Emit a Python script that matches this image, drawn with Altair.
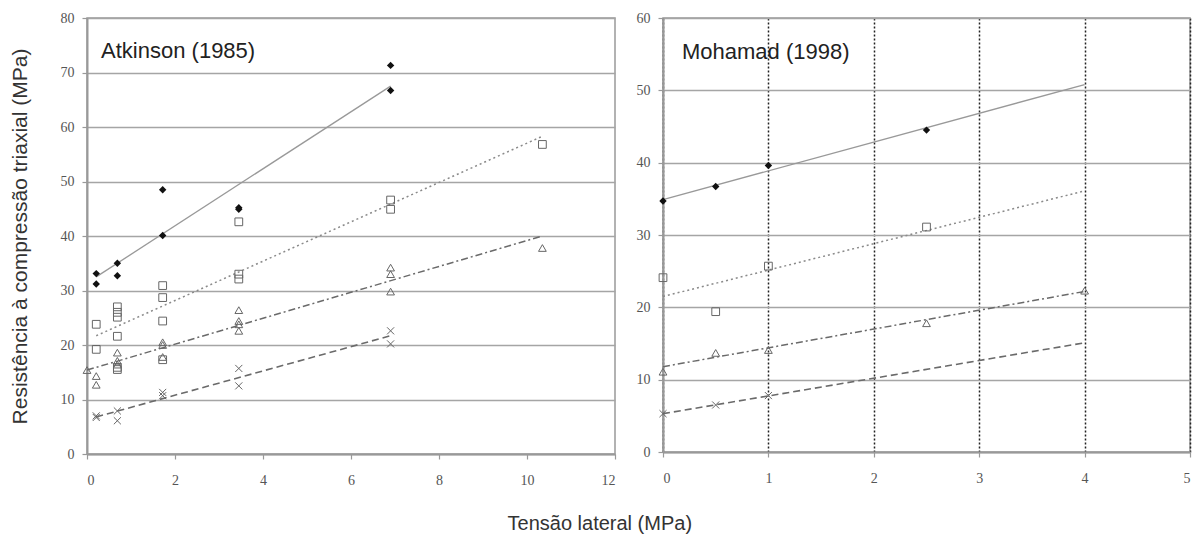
import altair as alt
import pandas as pd

# ---------------- Atkinson (1985) ----------------
atk_d_x = [0.21, 0.21, 0.69, 0.69, 1.72, 1.72, 3.45, 3.45, 6.9, 6.9]
atk_d_y = [33.1, 31.2, 35.0, 32.7, 48.5, 40.1, 45.2, 44.9, 71.3, 66.7]
atk_s_x = [0.21, 0.21, 0.69, 0.69, 0.69, 0.69, 0.69, 0.69, 1.72, 1.72, 1.72, 1.72, 3.45, 3.45, 3.45, 6.9, 6.9, 10.35]
atk_s_y = [23.8, 19.2, 27.0, 26.0, 25.1, 21.6, 15.9, 15.5, 30.9, 28.7, 24.4, 17.3, 42.6, 33.0, 32.1, 46.6, 44.9, 56.8]
atk_t_x = [0.0, 0.21, 0.21, 0.69, 0.69, 0.69, 1.72, 1.72, 1.72, 3.45, 3.45, 3.45, 3.45, 6.9, 6.9, 6.9, 10.35]
atk_t_y = [15.4, 14.3, 12.7, 18.6, 17.1, 16.4, 20.5, 20.0, 17.8, 26.4, 24.4, 23.8, 22.6, 34.2, 33.0, 29.8, 37.8]
atk_c_x = [0.21, 0.21, 0.69, 0.69, 1.72, 1.72, 3.45, 3.45, 6.9, 6.9]
atk_c_y = [7.0, 6.7, 7.9, 6.1, 11.3, 10.7, 15.7, 12.5, 22.6, 20.2]
# fitted lines (end points)
atk_fit_d = ([0.21, 6.9], [32.5, 67.5])
atk_fit_s = ([0.21, 10.35], [21.7, 58.3])
atk_fit_t = ([0.0, 10.35], [15.4, 40.0])
atk_fit_c = ([0.21, 6.9], [6.8, 21.7])

# ---------------- Mohamad (1998) ----------------
moh_d_x = [0, 0.5, 1, 2.5]
moh_d_y = [34.7, 36.7, 39.6, 44.5]
moh_s_x = [0, 0.5, 1, 2.5]
moh_s_y = [24.1, 19.4, 25.7, 31.1]
moh_t_x = [0, 0.5, 1, 2.5, 4]
moh_t_y = [11.1, 13.7, 14.1, 17.8, 22.3]
moh_c_x = [0, 0.5, 1]
moh_c_y = [5.3, 6.5, 7.8]
moh_fit_d = ([0, 4], [34.9, 50.8])
moh_fit_s = ([0, 4], [21.5, 36.1])
moh_fit_t = ([0, 4], [11.8, 22.2])
moh_fit_c = ([0, 4], [5.3, 15.1])

y_title = "Resistência à compressão triaxial (MPa)"
x_title = "Tensão lateral (MPa)"

XSHAPE = "M-1,-1L1,1M-1,1L1,-1"
SANS = "Liberation Sans"
SERIF = "Liberation Serif"


def df(xs, ys):
    return pd.DataFrame({"x": xs, "y": ys})


def panel(pts, fits, xdom, xvals, ydom, yvals, w, h, label, lx, ly, ytitle, xgrid):
    xs = alt.Scale(domain=xdom, nice=False, zero=False)
    ys = alt.Scale(domain=ydom, nice=False, zero=False)
    if xgrid:
        xaxis = alt.Axis(values=xvals, title=None, grid=True, gridColor="#222",
                         gridDash=[2, 2], gridWidth=1.5, labelPadding=14)
    else:
        xaxis = alt.Axis(values=xvals, title=None, grid=False, labelPadding=14)
    if ytitle:
        yaxis = alt.Axis(values=yvals, title=ytitle, titlePadding=30, labelPadding=8)
    else:
        yaxis = alt.Axis(values=yvals, title=None, labelPadding=8)

    X = alt.X("x:Q", scale=xs, axis=xaxis)
    Y = alt.Y("y:Q", scale=ys, axis=yaxis)

    styles_line = [
        dict(color="#999999", strokeWidth=1.3),
        dict(color="#8a8a8a", strokeWidth=1.5, strokeDash=[2, 3]),
        dict(color="#6a6a6a", strokeWidth=1.5, strokeDash=[7, 3, 2, 3]),
        dict(color="#6a6a6a", strokeWidth=1.6, strokeDash=[7, 4]),
    ]
    styles_pt = [
        dict(shape="diamond", filled=True, color="#111", size=55),
        dict(shape="square", filled=False, color="#666", size=60, strokeWidth=1),
        dict(shape="triangle-up", filled=False, color="#666", size=60, strokeWidth=1),
        dict(shape=XSHAPE, filled=False, color="#666", size=50, strokeWidth=1),
    ]
    layers = []
    for (fx, fy), st in zip(fits, styles_line):
        layers.append(alt.Chart(df(fx, fy)).mark_line(**st).encode(x=X, y=Y))
    for (px, py), st in zip(pts, styles_pt):
        layers.append(alt.Chart(df(px, py)).mark_point(opacity=1, **st).encode(x=X, y=Y))
    layers.append(
        alt.Chart(pd.DataFrame({"x": [lx], "y": [ly], "t": [label]}))
        .mark_text(align="left", baseline="alphabetic", font=SANS, fontSize=22, color="#222")
        .encode(x=X, y=Y, text="t:N")
    )
    return alt.layer(*layers).properties(width=w, height=h)


left = panel(
    [(atk_d_x, atk_d_y), (atk_s_x, atk_s_y), (atk_t_x, atk_t_y), (atk_c_x, atk_c_y)],
    [atk_fit_d, atk_fit_s, atk_fit_t, atk_fit_c],
    [0, 12], [0, 2, 4, 6, 8, 10, 12], [0, 80], list(range(0, 81, 10)),
    528, 436, "Atkinson (1985)", 0.32, 72.7, y_title, False,
)
right = panel(
    [(moh_d_x, moh_d_y), (moh_s_x, moh_s_y), (moh_t_x, moh_t_y), (moh_c_x, moh_c_y)],
    [moh_fit_d, moh_fit_s, moh_fit_t, moh_fit_c],
    [0, 5], [0, 1, 2, 3, 4, 5], [0, 60], list(range(0, 61, 10)),
    527, 434, "Mohamad (1998)", 0.18, 54.3, None, True,
)

chart = (
    alt.hconcat(left, right, spacing=18)
    .properties(
        title=alt.TitleParams(x_title, orient="bottom", anchor="middle", font=SANS,
                              fontSize=20, fontWeight="normal", color="#333", offset=26),
        padding={"left": 8, "top": 10, "right": 5, "bottom": 2},
        background="white",
    )
    .configure_view(stroke="#999", strokeWidth=1.5)
    .configure_axis(
        labelFont=SERIF, labelFontSize=14, labelColor="#555",
        domainColor="#999", domainWidth=2, tickColor="#999", tickSize=5, tickWidth=1.2,
        gridColor="#a5a5a5", gridWidth=1.5,
        titleFont=SANS, titleFontSize=21, titleFontWeight="normal", titleColor="#333",
    )
)

chart.save("out.html", embed_options={"renderer": "svg", "actions": False})
